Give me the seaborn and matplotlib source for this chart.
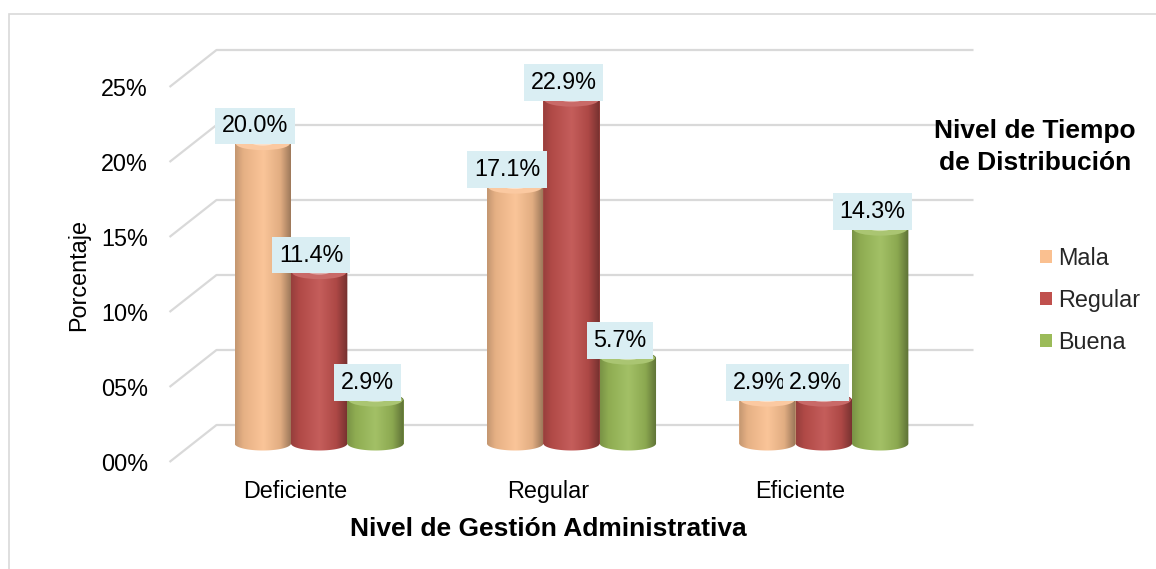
import numpy as np
import pandas as pd
import matplotlib
matplotlib.use("Agg")
import matplotlib.pyplot as plt
import seaborn as sns
from matplotlib.transforms import ScaledTranslation
from matplotlib.patches import Ellipse, Polygon, Rectangle
from matplotlib.colors import to_rgb, LinearSegmentedColormap

# ---------------- data ----------------
categories = ["Deficiente", "Regular", "Eficiente"]
series = ["Mala", "Regular", "Buena"]
mala = [20.0, 17.1, 2.9]
regular = [11.4, 22.9, 2.9]
buena = [2.9, 5.7, 14.3]
y_ticks = [0, 5, 10, 15, 20, 25]
y_tick_labels = ["00%", "05%", "10%", "15%", "20%", "25%"]
colors = ["#FAC090", "#C0504D", "#9BBB59"]

df = pd.DataFrame({
    "Nivel": categories * 3,
    "Serie": [s for s in series for _ in categories],
    "Valor": mala + regular + buena,
})

sns.set_theme(style="white")
plt.rcParams["font.family"] = ["Liberation Sans", "DejaVu Sans"]

W, H = 1156, 569
FS = 16.8
fig = plt.figure(figsize=(W / 100, H / 100), dpi=100)

XMIN, XMAX, YMAX = -0.5, 2.5, 25
Y_EXT = 1.0                      # floor room below zero for the cylinder bases
YMIN = -Y_EXT
zero_px, top_px = 443.5, 68.5    # pixel rows of 0 and 25 at bar depth
px_y = (zero_px - top_px) / YMAX
ax_l, ax_r = 193, 950
ax_t = top_px
ax_b = zero_px + Y_EXT * px_y
ax = fig.add_axes([ax_l / W, 1 - ax_b / H, (ax_r - ax_l) / W, (ax_b - ax_t) / H])

sns.barplot(data=df, x="Nivel", y="Valor", hue="Serie", order=categories,
            hue_order=series, palette=colors, width=0.67, saturation=1,
            ax=ax, legend=True, edgecolor="none", linewidth=0)

ax.set_xlim(XMIN, XMAX)
ax.set_ylim(YMIN, YMAX)
for s in ax.spines.values():
    s.set_visible(False)
ax.grid(False)

px_x = (ax_r - ax_l) / (XMAX - XMIN)
DX, DY = 23.5, 18.5
dxu, dyu = DX / px_x, DY / px_y

# perspective gridlines
for v in y_ticks:
    ax.plot([XMIN - dxu, XMIN + dxu, XMAX + dxu], [v - dyu, v + dyu, v + dyu],
            color="#D9D9D9", lw=1.6, clip_on=False, zorder=0.5,
            solid_capstyle="butt")

def shade(c, f):
    c = np.array(to_rgb(c))
    return tuple(np.clip(c * f, 0, 1))

def tint(c, f):
    c = np.array(to_rgb(c))
    return tuple(np.clip(c + (1 - c) * f, 0, 1))

bars = [p for p in ax.patches if isinstance(p, Rectangle) and p.get_height() > 0]
ey = 7.0 / px_y
grad = np.linspace(0, 1, 256)[None, :]
for i, p in enumerate(bars):
    x0, w, h = p.get_x(), p.get_width(), p.get_height()
    cx = x0 + w / 2
    c = p.get_facecolor()[:3]
    cmap = LinearSegmentedColormap.from_list(
        "cyl", [(0, shade(c, 0.78)), (0.15, shade(c, 0.92)), (0.5, tint(c, 0.08)),
                (0.8, shade(c, 0.9)), (1, shade(c, 0.6))])
    t1 = np.linspace(np.pi, 2 * np.pi, 40)
    t2 = np.linspace(0, np.pi, 40)
    verts = np.concatenate([
        np.column_stack([cx + w / 2 * np.cos(t1), ey * np.sin(t1)]),
        np.column_stack([cx + w / 2 * np.cos(t2), h + ey * np.sin(t2)]),
    ])
    z = 2 + i * 0.01
    poly = Polygon(verts, closed=True, facecolor="none", edgecolor="none", zorder=z)
    ax.add_patch(poly)
    img = ax.imshow(grad, extent=[x0, x0 + w, -ey, h + ey], aspect="auto",
                    cmap=cmap, origin="lower", zorder=z, interpolation="bicubic")
    img.set_clip_path(poly)
    ax.add_patch(Ellipse((cx, h), w * 0.96, 2 * ey * 0.95, facecolor=tint(c, 0.15),
                         edgecolor="none", zorder=z + 0.001))
    ax.add_patch(Ellipse((cx, h + ey * 0.15), w * 0.4, ey * 0.9, facecolor="white",
                         alpha=0.45, edgecolor="none", zorder=z + 0.002))

# data labels
for i, p in enumerate(bars):
    h = p.get_height()
    cx = p.get_x() + p.get_width() / 2
    ax.annotate(f"{h:.1f}%", xy=(cx, h), xytext=(-8, 6), textcoords="offset pixels",
                ha="center", va="bottom", fontsize=FS, color="black",
                zorder=10 + i * 0.01,
                bbox=dict(boxstyle="square,pad=0.28", fc="#DAEEF3", ec="none"))

ax.set_xlim(XMIN, XMAX)
ax.set_ylim(YMIN, YMAX)

# ticks
ax.set_yticks(y_ticks)
ax.set_yticklabels(y_tick_labels)
ax.tick_params(axis="y", length=0, pad=32.4, labelsize=FS, labelcolor="black")
ax.tick_params(axis="x", length=0, pad=11, labelsize=FS, labelcolor="black")
for lab in ax.get_yticklabels():
    lab.set_transform(lab.get_transform() + ScaledTranslation(0, -DY / 100, fig.dpi_scale_trans))
x_shift_y = DY - Y_EXT * px_y + 3
for lab in ax.get_xticklabels():
    lab.set_transform(lab.get_transform() + ScaledTranslation(-DX / 100, -x_shift_y / 100, fig.dpi_scale_trans))

ax.set_xlabel("Nivel de Gestión Administrativa", fontsize=19, fontweight="bold", color="black")
ax.xaxis.set_label_coords((548 - ax_l) / (ax_r - ax_l), (ax_b - 517) / (ax_b - ax_t))
ax.set_ylabel("Porcentaje", fontsize=FS, color="black")
ax.yaxis.set_label_coords((90 - ax_l) / (ax_r - ax_l), (ax_b - 275) / (ax_b - ax_t))

# legend
old = ax.get_legend()
handles = old.legend_handles
labels = [t.get_text() for t in old.get_texts()]
old.remove()
ax.legend(handles, labels, loc="upper left",
          bbox_to_anchor=(1040 / W, 1 - 247 / H), bbox_transform=fig.transFigure,
          frameon=False, fontsize=FS, handlelength=0.5, handleheight=0.45,
          handletextpad=0.27, labelspacing=0.81, borderpad=0, borderaxespad=0)
fig.text(1035 / W, 1 - 147 / H, "Nivel de Tiempo\nde Distribución", ha="center",
         va="center", fontsize=19, fontweight="bold", color="black", linespacing=1.45)

# outer border
fig.add_artist(Rectangle((9 / W, -0.05), 1.2, (1 - 14 / H) + 0.05,
                         transform=fig.transFigure, fill=False, ec="#D9D9D9", lw=1.2))

fig.savefig("out.png", dpi=100)
